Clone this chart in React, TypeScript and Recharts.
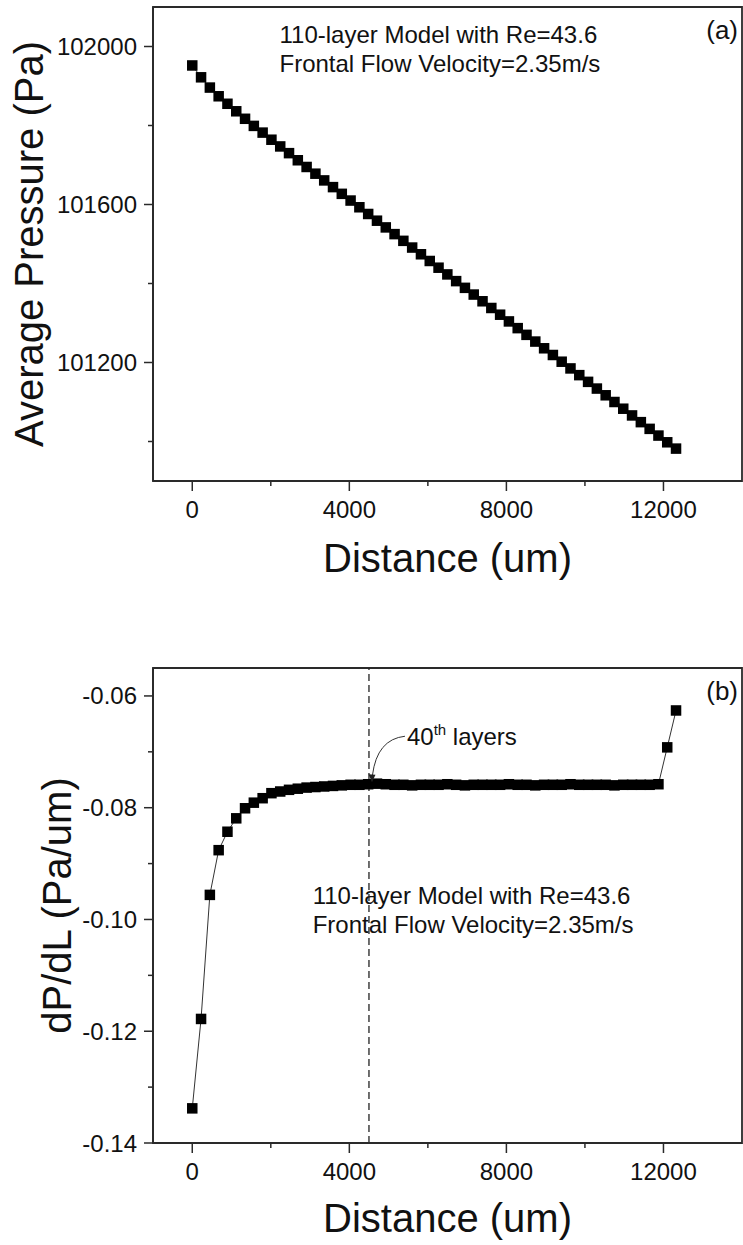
import React from "react";
import {
  LineChart,
  Line,
  XAxis,
  YAxis,
  ReferenceLine,
  ReferenceArea,
  ReferenceDot,
} from "recharts";

// distance along the model (um), one point every two layers
const distance = [
  0, 224, 448, 672, 896, 1120, 1344, 1568, 1792, 2016, 2240, 2464, 2688, 2912,
  3136, 3360, 3584, 3808, 4032, 4256, 4480, 4704, 4928, 5152, 5376, 5600, 5824,
  6048, 6272, 6496, 6720, 6944, 7168, 7392, 7616, 7840, 8064, 8288, 8512, 8736,
  8960, 9184, 9408, 9632, 9856, 10080, 10304, 10528, 10752, 10976, 11200, 11424,
  11648, 11872, 12096, 12320,
];

// (a) average pressure (Pa)
const avgPressure = [
  101952, 101922, 101896, 101874, 101855, 101836, 101817, 101799, 101782,
  101764, 101747, 101730, 101712, 101695, 101678, 101661, 101644, 101627,
  101610, 101593, 101576, 101559, 101542, 101525, 101508, 101491, 101474,
  101457, 101440, 101423, 101406, 101389, 101372, 101355, 101338, 101321,
  101304, 101287, 101270, 101253, 101236, 101219, 101202, 101185, 101168,
  101151, 101134, 101117, 101100, 101083, 101066, 101049, 101032, 101015,
  100998, 100982,
];

// (b) dP/dL (Pa/um)
const pressureGradient = [
  -0.1338, -0.1178, -0.0956, -0.0876, -0.0843, -0.0819, -0.0801, -0.0791,
  -0.0783, -0.0774, -0.0771, -0.0768, -0.0766, -0.0764, -0.0763, -0.0762,
  -0.0761, -0.076, -0.0759, -0.0759, -0.0758, -0.0757, -0.0758, -0.0759,
  -0.0759, -0.076, -0.0759, -0.0759, -0.0759, -0.0758, -0.0759, -0.076,
  -0.0759, -0.0759, -0.0759, -0.0759, -0.0758, -0.0759, -0.0759, -0.076,
  -0.0759, -0.0759, -0.0759, -0.0758, -0.0759, -0.0759, -0.0759, -0.0759,
  -0.076, -0.0759, -0.0759, -0.0759, -0.0759, -0.0758, -0.0692, -0.0626,
];

const xMajorTicks = [0, 4000, 8000, 12000];
const xMinorTicks = [2000, 6000, 10000];
const pressureMajorTicks = [101200, 101600, 102000];
const pressureMinorTicks = [101000, 101400, 101800];
const gradientMajorTicks = [-0.14, -0.12, -0.1, -0.08, -0.06];
const gradientMinorTicks = [-0.13, -0.11, -0.09, -0.07];

const data = distance.map((d, i) => ({
  distance: d,
  pressure: avgPressure[i],
  gradient: pressureGradient[i],
}));

const FONT = "'Liberation Sans', Arial, sans-serif";
const INK = "#111";
const AXIS = "#2a2a2a";

const isIn = (list: number[], v: number) =>
  list.some((t) => Math.abs(t - v) < 1e-9);

const XTick = (props: any) => {
  const { x, y, payload } = props;
  const major = isIn(xMajorTicks, payload.value);
  return (
    <g>
      <line x1={x} y1={y} x2={x} y2={y + (major ? 10 : 5)} stroke={AXIS} strokeWidth={1.5} />
      {major && (
        <text x={x} y={y + 20} dy="0.71em" textAnchor="middle" fontSize={24} fill={INK} fontFamily={FONT}>
          {payload.value}
        </text>
      )}
    </g>
  );
};

const makeYTick = (majors: number[], fmt: (v: number) => string) => (props: any) => {
  const { x, y, payload } = props;
  const major = isIn(majors, payload.value);
  return (
    <g>
      <line x1={x} y1={y} x2={x - (major ? 9 : 5)} y2={y} stroke={AXIS} strokeWidth={1.5} />
      {major && (
        <text x={x - 16} y={y} dy="0.355em" textAnchor="end" fontSize={24} fill={INK} fontFamily={FONT}>
          {fmt(payload.value)}
        </text>
      )}
    </g>
  );
};

const PressureTick = makeYTick(pressureMajorTicks, (v) => String(v));
const GradientTick = makeYTick(gradientMajorTicks, (v) => v.toFixed(2));

const square = (size: number) => (props: any) => {
  const { cx, cy, index } = props;
  if (cx == null || cy == null) return <g key={index} />;
  return <rect key={index} x={cx - size / 2} y={cy - size / 2} width={size} height={size} fill="#000" />;
};

const xTitle = (offset: number) => (props: any) => {
  const { x, y, width } = props.viewBox;
  return (
    <text x={x + width / 2} y={y + offset} textAnchor="middle" fontSize={40} fill={INK} fontFamily={FONT}>
      Distance (um)
    </text>
  );
};

const yTitle = (text: string, baseX: number) => (props: any) => {
  const { y, height } = props.viewBox;
  const cy = y + height / 2;
  return (
    <text
      x={baseX}
      y={cy}
      transform={`rotate(-90 ${baseX} ${cy})`}
      textAnchor="middle"
      fontSize={40}
      fill={INK}
      fontFamily={FONT}
    >
      {text}
    </text>
  );
};

const notes = (tag: string, dx: number, dy: number) => (props: any) => {
  const { x, y, width } = props.viewBox;
  return (
    <g fontFamily={FONT} fill={INK}>
      <text x={x + dx} y={y + dy} fontSize={24}>110-layer Model with Re=43.6</text>
      <text x={x + dx} y={y + dy + 29} fontSize={24}>Frontal Flow Velocity=2.35m/s</text>
      <text x={x + width - 4} y={y + 31.5} textAnchor="end" fontSize={26}>{tag}</text>
    </g>
  );
};

const layerArrow = (props: any) => {
  const { x, y, width, height } = props.viewBox;
  const cx = x + (width || 0) / 2;
  const cy = y + (height || 0) / 2;
  return (
    <g fontFamily={FONT}>
      <path
        d={`M ${cx + 36} ${cy - 48} Q ${cx + 8} ${cy - 45} ${cx + 3.5} ${cy - 9}`}
        fill="none"
        stroke="#333"
        strokeWidth={1}
      />
      <path d={`M ${cx + 3} ${cy - 2} L ${cx - 0.5} ${cy - 10} L ${cx + 6.5} ${cy - 9.5} Z`} fill="#222" />
      <text x={cx + 38} y={cy - 39} fontSize={24} fill={INK}>
        40
        <tspan dy={-10} fontSize={15}>th</tspan>
        <tspan dy={10} fontSize={24}> layers</tspan>
      </text>
    </g>
  );
};

export default function App() {
  return (
    <div style={{ width: 743, height: 1245, background: "#fff" }}>
      <style>{"body{margin:0}"}</style>
      <LineChart width={743} height={620} data={data} margin={{ top: 7, right: 1, bottom: 0, left: 0 }}>
        <XAxis
          dataKey="distance"
          type="number"
          domain={[-1000, 14000]}
          allowDataOverflow
          ticks={[...xMajorTicks, ...xMinorTicks]}
          interval={0}
          tick={<XTick />}
          tickLine={false}
          tickSize={0}
          tickMargin={0}
          height={139}
          axisLine={{ stroke: AXIS, strokeWidth: 1.8 }}
          label={{ content: xTitle(91) }}
        />
        <YAxis
          type="number"
          domain={[100900, 102100]}
          allowDataOverflow
          ticks={[...pressureMajorTicks, ...pressureMinorTicks]}
          interval={0}
          tick={<PressureTick />}
          tickLine={false}
          tickSize={0}
          tickMargin={0}
          width={153}
          axisLine={{ stroke: AXIS, strokeWidth: 1.8 }}
          label={{ content: yTitle("Average Pressure (Pa)", 43) }}
        />
        <ReferenceArea
          x1={-1000}
          x2={14000}
          y1={100900}
          y2={102100}
          fill="none"
          stroke={AXIS}
          strokeWidth={1.8}
          fillOpacity={0}
          label={{ content: notes("(a)", 126.5, 35.5) }}
        />
        <Line
          dataKey="pressure"
          stroke="#333"
          strokeWidth={1}
          dot={square(10.5)}
          activeDot={false}
          isAnimationActive={false}
        />
      </LineChart>
      <LineChart width={743} height={625} data={data} margin={{ top: 48, right: 1, bottom: 0, left: 0 }}>
        <XAxis
          dataKey="distance"
          type="number"
          domain={[-1000, 14000]}
          allowDataOverflow
          ticks={[...xMajorTicks, ...xMinorTicks]}
          interval={0}
          tick={<XTick />}
          tickLine={false}
          tickSize={0}
          tickMargin={0}
          height={102}
          axisLine={{ stroke: AXIS, strokeWidth: 1.8 }}
          label={{ content: xTitle(89) }}
        />
        <YAxis
          type="number"
          domain={[-0.14, -0.055]}
          allowDataOverflow
          ticks={[...gradientMajorTicks, ...gradientMinorTicks]}
          interval={0}
          tick={<GradientTick />}
          tickLine={false}
          tickSize={0}
          tickMargin={0}
          width={153}
          axisLine={{ stroke: AXIS, strokeWidth: 1.8 }}
          label={{ content: yTitle("dP/dL (Pa/um)", 71) }}
        />
        <ReferenceArea
          x1={-1000}
          x2={14000}
          y1={-0.14}
          y2={-0.055}
          fill="none"
          stroke={AXIS}
          strokeWidth={1.8}
          fillOpacity={0}
          label={{ content: notes("(b)", 159.7, 235.7) }}
        />
        <ReferenceLine x={4500} stroke="#222" strokeWidth={1.3} strokeDasharray="7 4" />
        <Line
          dataKey="gradient"
          stroke="#333"
          strokeWidth={1}
          dot={square(10.5)}
          activeDot={false}
          isAnimationActive={false}
        />
        <ReferenceDot
          x={4500}
          y={-0.0758}
          r={1}
          fill="none"
          stroke="none"
          label={{ content: layerArrow }}
        />
      </LineChart>
    </div>
  );
}
